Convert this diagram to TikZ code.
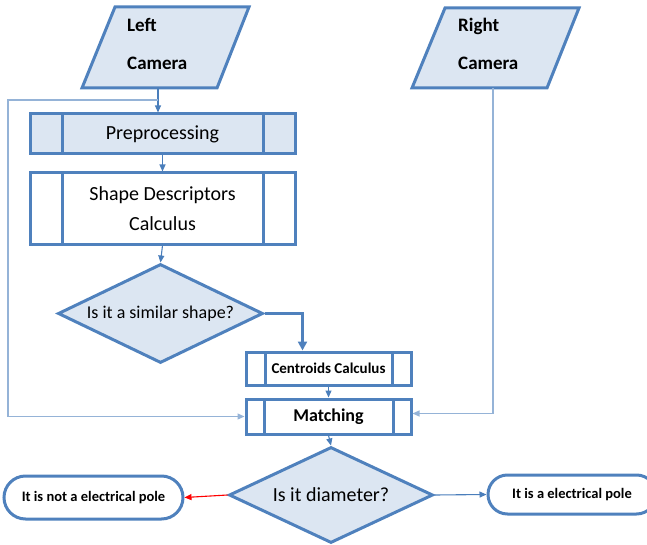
\documentclass[tikz,border=0pt]{standalone}
\usepackage{fontspec}
\setmainfont{Carlito}
\usetikzlibrary{arrows.meta, shapes.geometric, shapes.misc, positioning}
\definecolor{boxblue}{HTML}{4F81BD}
\definecolor{fillblue}{HTML}{DCE6F2}
\definecolor{linkblue}{HTML}{4A7EBB}
\definecolor{feedblue}{HTML}{95B3D7}
\definecolor{nored}{HTML}{FF0000}
\tikzset{
  procbox/.style={draw=boxblue, line width=3pt, rectangle, inner sep=0pt, align=center,
    path picture={
      \draw[boxblue, line width=3pt]
        ([xshift=#1]path picture bounding box.north west) -- ([xshift=#1]path picture bounding box.south west)
        ([xshift=-#1]path picture bounding box.north east) -- ([xshift=-#1]path picture bounding box.south east);}},
  camshape/.style={draw=boxblue, fill=fillblue, line width=3pt, line join=miter},
  camtext/.style={font=\fontsize{19}{38}\selectfont\bfseries, align=left, anchor=west, inner sep=0pt},
  askbox/.style={diamond, draw=boxblue, fill=fillblue, line width=3pt, inner sep=0pt, aspect=2.1},
  endbox/.style={rounded rectangle, draw=boxblue, line width=3pt, inner sep=0pt,
    font=\fontsize{14.5}{17}\selectfont\bfseries},
  link/.style={draw=linkblue, line width=1.1pt, -{Triangle[length=7pt, width=6pt]}},
  feed/.style={draw=feedblue, line width=1.1pt, -{Triangle[length=7pt, width=6pt]}},
}

\begin{document}
\begin{tikzpicture}[x=1pt, y=-1pt]
  \useasboundingbox (0,0) rectangle (647,545);
  % Camaras
  \draw[camshape] (115,7) -- (249,7) -- (217,88) -- (82,88) -- cycle;
  \node[camtext] (leftcam) at (127,44) {Left\\Camera};
  \coordinate (leftout) at (158,88);
  \coordinate (leftsplit) at (158,100);
  \draw[camshape] (445,8) -- (579,8) -- (547,88) -- (412,88) -- cycle;
  \node[camtext] (rightcam) at (458,44) {Right\\Camera};
  \coordinate (rightout) at (493,88);

  % Proceso
  \node[procbox=32, fill=fillblue, minimum width=265, minimum height=40,
    font=\fontsize{20}{30}\selectfont] (prep) at (162.5,134) {Preprocessing};
  \node[procbox=32, fill=white, minimum width=265, minimum height=71,
    font=\fontsize{20}{30}\selectfont] (shape) at (162.5,208.5) {Shape Descriptors\\Calculus};
  \node[askbox, minimum width=205, minimum height=99,
    font=\fontsize{18}{22}\selectfont] (similar) at (160.5,313.5) {Is it a similar shape?};
  \node[procbox=19, fill=white, minimum width=165, minimum height=33,
    font=\fontsize{15}{18}\selectfont\bfseries] (centroid) at (328.5,368.5) {Centroids Calculus};
  \node[procbox=18, fill=white, minimum width=165, minimum height=35,
    font=\fontsize{18}{22}\selectfont\bfseries] (match) at (328.5,416.5) {Matching};
  \node[askbox, minimum width=204, minimum height=96,
    font=\fontsize{20}{24}\selectfont] (diam) at (331,495) {Is it diameter?};
  \node[endbox, minimum width=179, minimum height=43] (nopole) at (93.5,497.5) {It is not a electrical pole};
  \node[endbox, minimum width=168, minimum height=39] (pole) at (572,494.5) {It is a electrical pole};

  % Conectores
  \draw[link] (leftout) -- (leftout |- prep.north);
  \draw[feed] (leftsplit) -- ++(-150,0) |- (match.west);
  \draw[feed] (rightout) |- ([yshift=3]match.east);
  \draw[link] (prep.south) -- (shape.north);
  \draw[link] (shape.south) -- (similar.north);
  \draw[draw=boxblue, line width=2.6pt, -{Triangle[length=9pt, width=9pt]}]
    (similar.east) -| ([xshift=-26]centroid.north);
  \draw[link] (centroid.south) -- (match.north);
  \draw[link] (match.south) -- (diam.north);
  \draw[link, draw=nored, -{Triangle[length=7pt, width=6pt, fill=nored]}] (diam.west) -- (nopole.east);
  \draw[link] (diam.east) -- (pole.west);
\end{tikzpicture}
\end{document}
